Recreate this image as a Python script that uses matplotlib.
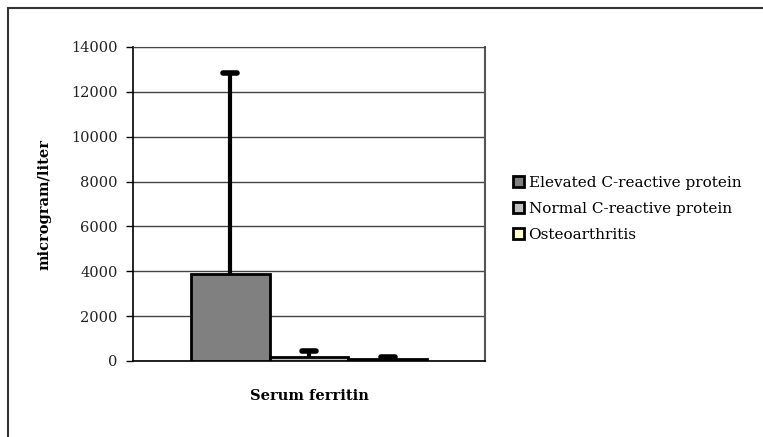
import numpy as np
import matplotlib.pyplot as plt
from matplotlib.patches import Rectangle

groups = ["Elevated C-reactive protein", "Normal C-reactive protein", "Osteoarthritis"]
means = np.array([3900, 180, 80])
upper_err = np.array([8950, 270, 110])
colors = ["#808080", "#C0C0C0", "#FFFFCC"]
yticks = [0, 2000, 4000, 6000, 8000, 10000, 12000, 14000]

plt.rcParams['font.family'] = ['DejaVu Serif']

fig = plt.figure(figsize=(7.63, 4.37), dpi=100)
ax = fig.add_axes([133 / 763, 1 - 361 / 437, 352 / 763, 314 / 437])

# outer frame, clipped by the image edge on the right and bottom
fig.patches.append(Rectangle((8 / 763, -0.1), 1.2, 1 - 8 / 437 + 0.1,
                             transform=fig.transFigure, fill=False,
                             edgecolor="#333333", linewidth=1.5))

x = np.arange(len(groups)) - 1
for i in range(len(groups)):
    ax.bar(x[i], means[i], width=1.0, color=colors[i], edgecolor="black",
           linewidth=2, label=groups[i], zorder=3)

# upper-only error bars
ax.vlines(x, means, means + upper_err, color="black", linewidth=3, zorder=4)
ax.hlines(means + upper_err, x - 0.085, x + 0.085, color="black", linewidth=4,
          capstyle="round", zorder=4)

ax.set_xlim(-2.23, 2.23)
ax.set_ylim(0, 14000)
ax.set_yticks(yticks)
ax.set_xticks([])
ax.yaxis.grid(True, color="#444444", linewidth=1)
ax.set_axisbelow(True)
ax.tick_params(axis="y", direction="out", length=5, labelsize=10.5, width=1,
               pad=6, labelcolor="#222222")
for s in ["left", "bottom"]:
    ax.spines[s].set_color("black")
    ax.spines[s].set_linewidth(1.2)
ax.spines["top"].set_color("#444444")
ax.spines["right"].set_color("#555555")
ax.spines["right"].set_linewidth(1.5)

ax.set_ylabel("microgram/liter", fontsize=10.5, fontweight="bold", labelpad=14)
ax.set_xlabel("Serum ferritin", fontsize=10.5, fontweight="bold", labelpad=20)

leg = ax.legend(loc="upper left", bbox_to_anchor=(1.063, 0.61), frameon=False,
                fontsize=11, handlelength=0.7, handleheight=0.7,
                handletextpad=0.3, labelspacing=0.8, borderaxespad=0)

fig.savefig("out.png", dpi=100)
